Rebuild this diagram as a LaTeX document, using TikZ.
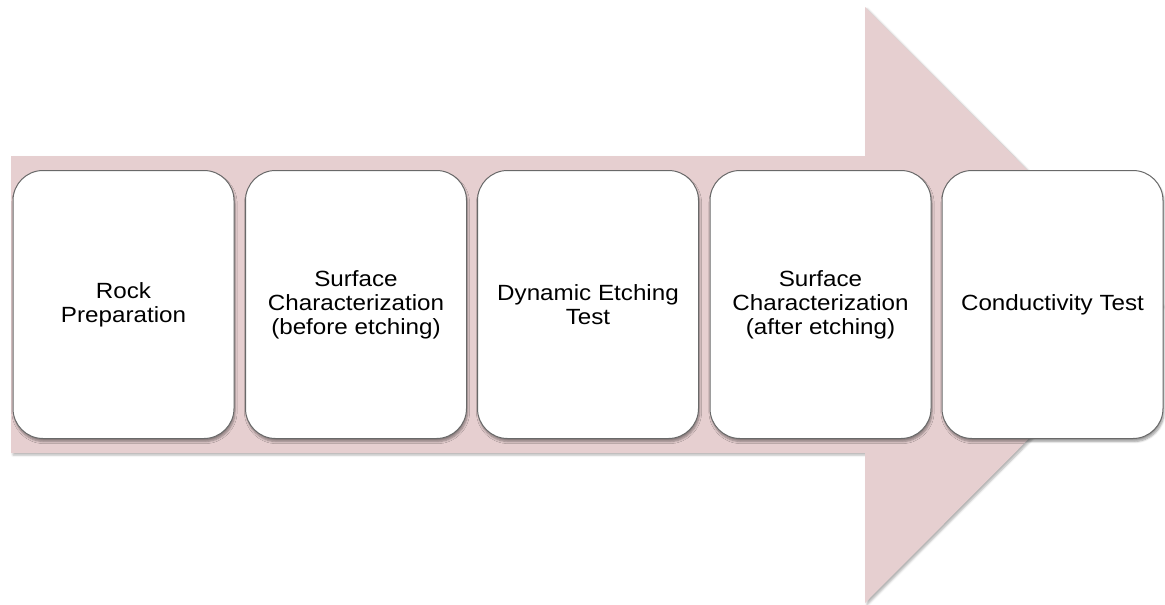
\documentclass[tikz,border=0pt]{standalone}
\usepackage{fontspec}
\setmainfont{Liberation Sans}[FakeStretch=1.1]
\usetikzlibrary{shadows,shadows.blur}
\definecolor{arrowpink}{RGB}{230,207,208}
\definecolor{boxline}{RGB}{105,105,105}
\tikzset{
  stagebox/.style={draw=boxline, line width=1pt, fill=white, rounded corners=30pt,
    minimum width=221pt, minimum height=268pt, align=center, inner sep=2pt,
    font=\fontsize{22}{24}\selectfont,
    blur shadow={shadow xshift=1pt, shadow yshift=-3pt, shadow blur steps=6, shadow opacity=40}},
  bigarrow/.style={fill=arrowpink, draw=none,
    blur shadow={shadow xshift=2pt, shadow yshift=-2pt, shadow blur steps=4, shadow opacity=30}}
}
\begin{document}
\begin{tikzpicture}[x=1pt,y=-1pt]
\useasboundingbox (0,0) rectangle (1165,605);
\path[bigarrow] (11,156) -- (865,156) -- (865,7) -- (1162,305) -- (865,603) -- (865,453) -- (11,453) -- cycle;
\node[stagebox] (s1) at (123.5,304.5) {Rock\\Preparation};
\node[stagebox] (s2) at (356,304.5) {Surface\\Characterization\\(before etching)};
\node[stagebox] (s3) at (588,304.5) {Dynamic Etching\\Test};
\node[stagebox] (s4) at (820.5,304.5) {Surface\\Characterization\\(after etching)};
\node[stagebox] (s5) at (1052.5,304.5) {Conductivity Test};
\end{tikzpicture}
\end{document}
